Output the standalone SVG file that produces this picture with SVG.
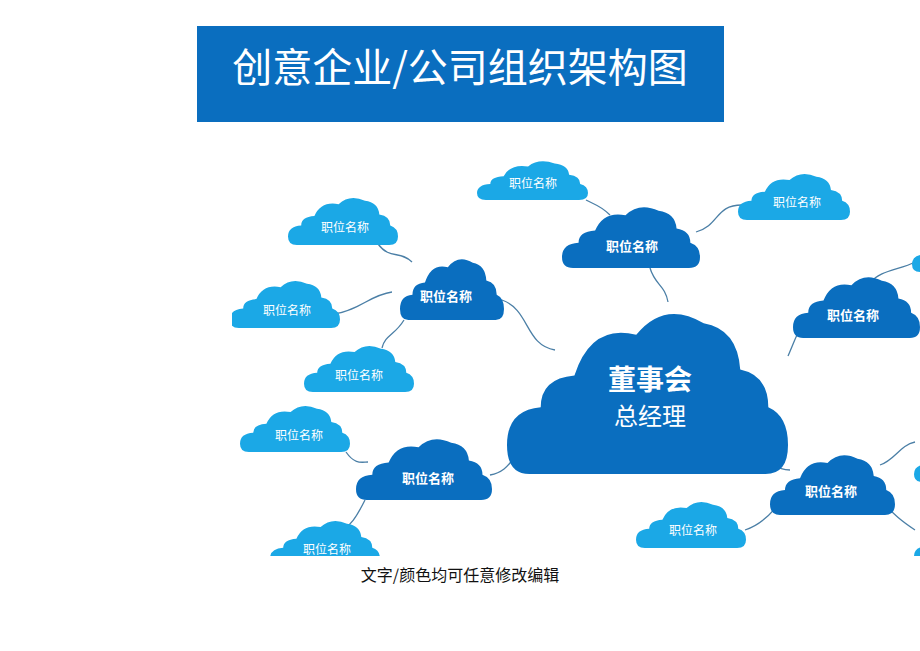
<svg xmlns="http://www.w3.org/2000/svg" xmlns:xlink="http://www.w3.org/1999/xlink" width="920" height="651" viewBox="0 0 920 651">
<style>
.t{font-family:"Noto Sans CJK SC","Liberation Sans",sans-serif;text-anchor:middle;fill:#fff}
.d{fill:#0a6ebf}.l{fill:#1ba8e6}
.c{fill:none;stroke:#4b7fa6;stroke-width:1.3}
.s{font-size:13px;font-weight:bold}.m{font-size:12px}
</style>
<defs>
<symbol id="cl" viewBox="0 0 100 60" preserveAspectRatio="none">
<path d="M8,60 Q0,60 0,50 Q0,38 12,37 Q12,27 24,26 Q30,8 46,12 Q56,0 70,8 Q82,10 83,24 Q93,26 93,37 Q100,40 100,50 Q100,60 92,60 Z"/>
</symbol>
<clipPath id="cp"><rect x="232" y="160" width="688" height="396"/></clipPath>
</defs>
<rect width="920" height="651" fill="#fff"/>
<g id="title"><rect x="197" y="26" width="527" height="96" fill="#0a6ebf"/>
<text x="460" y="82" class="t" style="font-size:40px">创意企业/公司组织架构图</text></g>
<g clip-path="url(#cp)">
<g id="connectors" class="c">
<path d="M650,268 C655,285 665,285 668,302"/>
<path d="M586,200 C595,205 600,205 610,215"/>
<path d="M696,232 C720,225 715,205 742,205"/>
<path d="M378,244 C390,260 400,250 412,262"/>
<path d="M334,314 C360,310 370,295 392,292"/>
<path d="M404,320 C395,335 385,335 382,348"/>
<path d="M502,300 C530,310 525,345 555,350"/>
<path d="M788,356 C795,340 800,325 805,322"/>
<path d="M870,283 C880,270 900,270 915,262"/>
<path d="M346,452 C355,465 362,462 368,462"/>
<path d="M490,475 C515,470 510,450 535,445"/>
<path d="M365,500 C355,520 350,525 345,528"/>
<path d="M762,447 C770,460 775,470 790,470"/>
<path d="M778,505 C770,515 760,525 745,530"/>
<path d="M880,465 C895,460 900,445 915,442"/>
<path d="M885,505 C895,515 900,520 915,530"/>
</g>
<g id="n0"><use xlink:href="#cl" class="d" x="507" y="300" width="281" height="174"/>
<text x="650" y="390" class="t" style="font-size:28px;font-weight:bold">董事会</text>
<text x="650" y="425" class="t" style="font-size:24px">总经理</text></g>
<g id="n1"><use xlink:href="#cl" class="d" x="562" y="202" width="138" height="66"/><text x="632" y="251" class="t s">职位名称</text></g>
<g id="n2"><use xlink:href="#cl" class="d" x="400" y="254" width="104" height="66"/><text x="446" y="301" class="t s">职位名称</text></g>
<g id="n3"><use xlink:href="#cl" class="d" x="793" y="272" width="127" height="66"/><text x="853" y="320" class="t s">职位名称</text></g>
<g id="n4"><use xlink:href="#cl" class="d" x="356" y="434" width="136" height="66"/><text x="428" y="483" class="t s">职位名称</text></g>
<g id="n5"><use xlink:href="#cl" class="d" x="770" y="450" width="125" height="65"/><text x="831" y="496" class="t s">职位名称</text></g>
<g id="n6"><use xlink:href="#cl" class="l" x="477" y="158" width="111" height="42"/><text x="533" y="188" class="t m">职位名称</text></g>
<g id="n7"><use xlink:href="#cl" class="l" x="738" y="170" width="112" height="50"/><text x="797" y="207" class="t m">职位名称</text></g>
<g id="n8"><use xlink:href="#cl" class="l" x="288" y="194" width="110" height="51"/><text x="345" y="232" class="t m">职位名称</text></g>
<g id="n9"><use xlink:href="#cl" class="l" x="230" y="277" width="110" height="51"/><text x="287" y="315" class="t m">职位名称</text></g>
<g id="n10"><use xlink:href="#cl" class="l" x="304" y="342" width="110" height="50"/><text x="359" y="380" class="t m">职位名称</text></g>
<g id="n11"><use xlink:href="#cl" class="l" x="240" y="402" width="110" height="50"/><text x="299" y="440" class="t m">职位名称</text></g>
<g id="n12"><use xlink:href="#cl" class="l" x="270" y="517" width="110" height="50"/><text x="327" y="554" class="t m">职位名称</text></g>
<g id="n13"><use xlink:href="#cl" class="l" x="636" y="498" width="110" height="50"/><text x="693" y="535" class="t m">职位名称</text></g>
<g id="n14"><use xlink:href="#cl" class="l" x="912" y="226" width="100" height="46"/></g>
<g id="n15"><use xlink:href="#cl" class="l" x="914" y="436" width="100" height="46"/></g>
<g id="n16"><use xlink:href="#cl" class="l" x="914" y="518" width="100" height="46"/></g>
</g>
<text x="460" y="581" style="font-family:'Noto Sans CJK SC','Liberation Sans',sans-serif;font-size:16px;text-anchor:middle;fill:#111">文字/颜色均可任意修改编辑</text>
</svg>
